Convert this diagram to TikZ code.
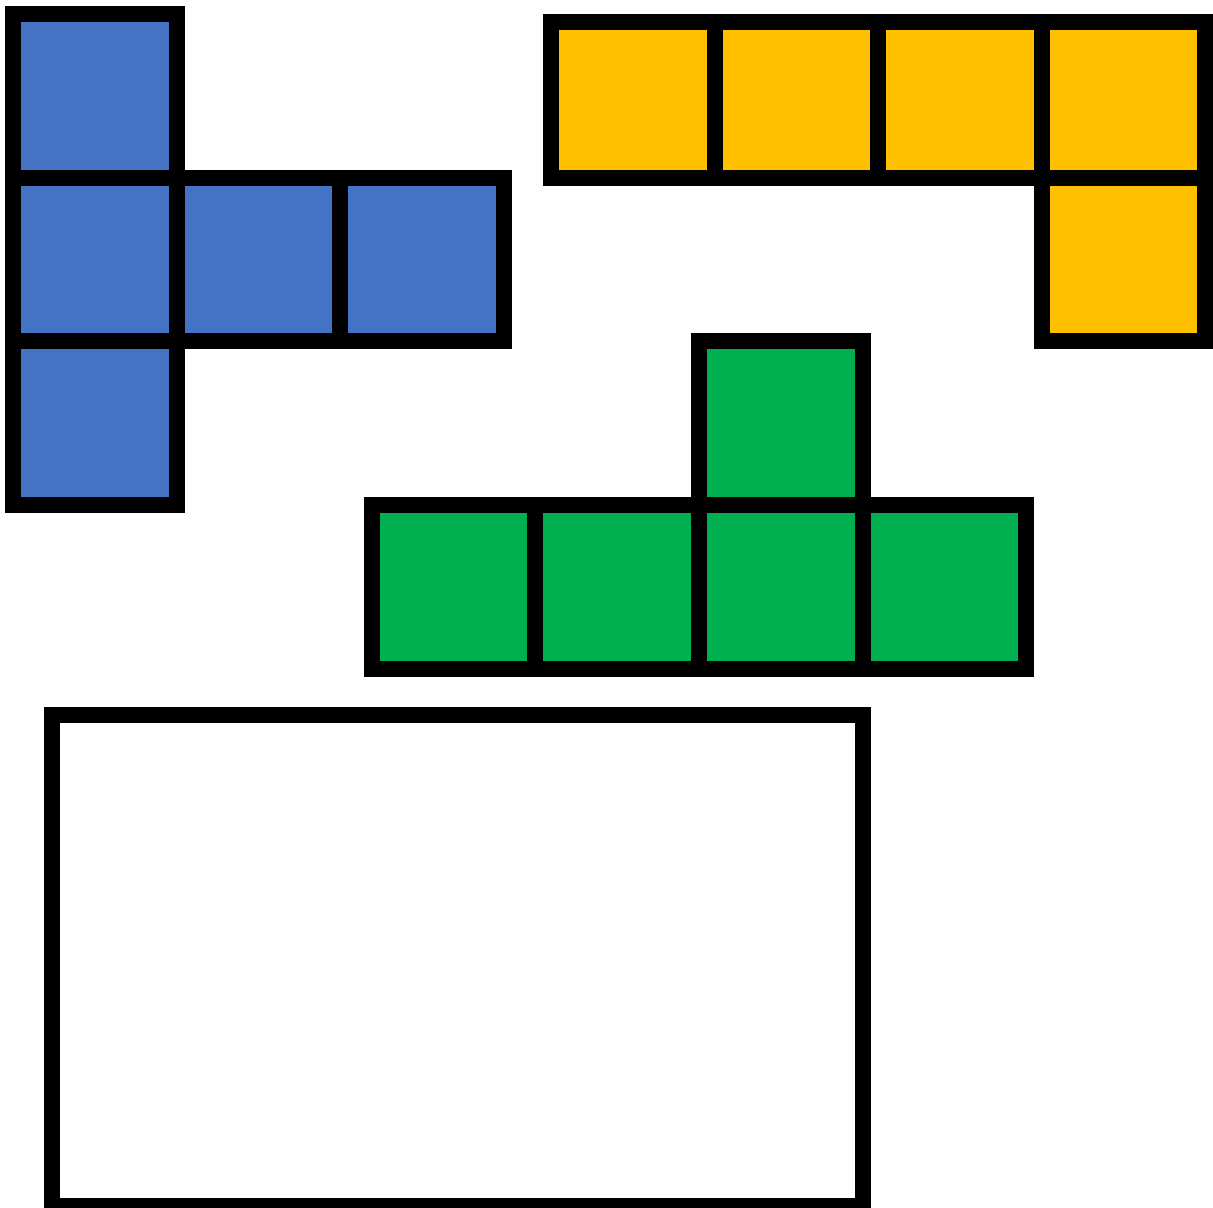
\documentclass[tikz,border=0pt]{standalone}
\definecolor{tileBlue}{HTML}{4472C4}
\definecolor{tileGold}{HTML}{FFC000}
\definecolor{tileGreen}{HTML}{00B050}
\begin{document}
\begin{tikzpicture}
% Tiles traced in pixel units, y axis pointing down
\def\cellsz{163.6}
\providecommand{\tileLineColor}{black}
\providecommand{\tileLineWidth}{1.6mm}
\begin{scope}[x=0.1mm, y=-0.1mm, line join=miter]
  \useasboundingbox (0,0) rectangle (1213,1207);
  % Blue piece
  \begin{scope}[fill=tileBlue]
    \fill (13,14) rectangle ++(\cellsz,\cellsz);
    \fill (13,177.5) rectangle ++(\cellsz,\cellsz);
    \fill (176.5,177.5) rectangle ++(\cellsz,\cellsz);
    \fill (340,177.5) rectangle ++(\cellsz,\cellsz);
    \fill (13,341) rectangle ++(\cellsz,\cellsz);
  \end{scope}
  % Gold piece
  \begin{scope}[fill=tileGold]
    \fill (551,21.5) rectangle (714.6,177.5);
    \fill (714.6,21.5) rectangle (878.2,177.5);
    \fill (878.2,21.5) rectangle (1041.8,177.5);
    \fill (1041.8,21.5) rectangle (1205.4,177.5);
    \fill (1041.8,177.5) rectangle (1205.4,341);
  \end{scope}
  % Green piece
  \begin{scope}[fill=tileGreen]
    \fill (699,341) rectangle (862.5,505);
    \fill (371.5,505) rectangle (535,668.5);
    \fill (535,505) rectangle (699,668.5);
    \fill (699,505) rectangle (862.5,668.5);
    \fill (862.5,505) rectangle (1026,668.5);
  \end{scope}
  % Outlines
  \begin{scope}[draw=\tileLineColor, line width=\tileLineWidth]
    \draw (13,14) rectangle ++(\cellsz,\cellsz);
    \draw (13,177.5) rectangle ++(\cellsz,\cellsz);
    \draw (176.5,177.5) rectangle ++(\cellsz,\cellsz);
    \draw (340,177.5) rectangle ++(\cellsz,\cellsz);
    \draw (13,341) rectangle ++(\cellsz,\cellsz);
    \draw (551,21.5) rectangle (714.6,177.5);
    \draw (714.6,21.5) rectangle (878.2,177.5);
    \draw (878.2,21.5) rectangle (1041.8,177.5);
    \draw (1041.8,21.5) rectangle (1205.4,177.5);
    \draw (1041.8,177.5) rectangle (1205.4,341);
    \draw (699,341) rectangle (862.5,505);
    \draw (371.5,505) rectangle (535,668.5);
    \draw (535,505) rectangle (699,668.5);
    \draw (699,505) rectangle (862.5,668.5);
    \draw (862.5,505) rectangle (1026,668.5);
    % Empty board
    \draw (52,715) rectangle (863,1206);
  \end{scope}
\end{scope}
\end{tikzpicture}
\end{document}
